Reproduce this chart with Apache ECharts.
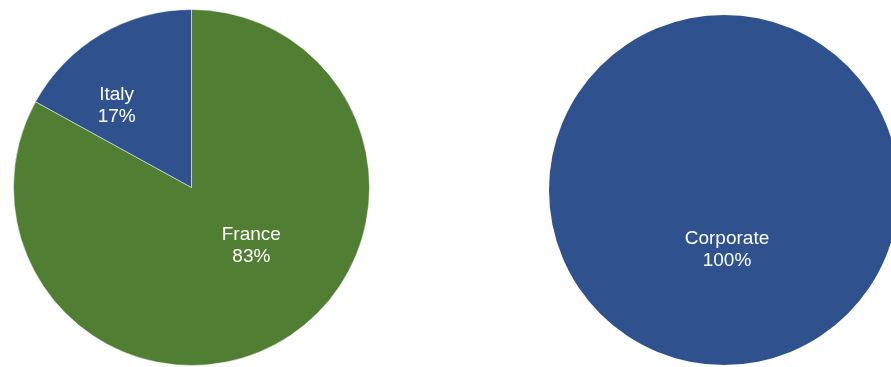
<!DOCTYPE html>
<html>
<head>
<meta charset="utf-8">
<script src="https://cdn.jsdelivr.net/npm/echarts@6/dist/echarts.min.js"></script>
<style>
  html, body { margin: 0; padding: 0; background: #fff; }
  #main { width: 891px; height: 367px; }
</style>
</head>
<body>
<div id="main"></div>
<script>
// 左侧饼图：地区
var regionNames = ['France', 'Italy'];
var regionValues = [83, 17];
// 右侧饼图：类别
var segmentNames = ['Corporate'];
var segmentValues = [100];

var GREEN = '#507e32';
var BLUE = '#2f528f';

var labelStyle = {
    color: '#fff',
    fontFamily: 'Liberation Sans, Arial, sans-serif',
    fontSize: 19,
    lineHeight: 22,
    formatter: function (p) { return p.name + '\n' + Math.round(p.percent) + '%'; }
};

// 标签偏移（参考图的标签位置）
var regionOffsets = [[13, -21], [-28, -3]];
var regionColors = [GREEN, BLUE];

var myChart = echarts.init(document.getElementById('main'));

var option = {
    animation: false,
    series: [{
        type: 'pie',
        center: [191.5, 187.5],
        radius: [0, 178],
        startAngle: 90,
        clockwise: true,
        label: Object.assign({ position: 'inside' }, labelStyle),
        labelLine: { show: false },
        itemStyle: { borderColor: '#fff', borderWidth: 0.5 },
        emphasis: { disabled: true },
        data: regionNames.map(function (n, i) {
            return {
                name: n,
                value: regionValues[i],
                itemStyle: { color: regionColors[i] },
                label: { offset: regionOffsets[i] }
            };
        })
    }, {
        type: 'pie',
        center: [724, 190],
        radius: [0, 175],
        startAngle: 90,
        label: Object.assign({ position: 'center', offset: [3, 60] }, labelStyle),
        labelLine: { show: false },
        itemStyle: { borderWidth: 0 },
        emphasis: { disabled: true },
        data: segmentNames.map(function (n, i) {
            return { name: n, value: segmentValues[i], itemStyle: { color: BLUE } };
        })
    }]
};

myChart.setOption(option);
window.addEventListener('resize', myChart.resize);
</script>
</body>
</html>
